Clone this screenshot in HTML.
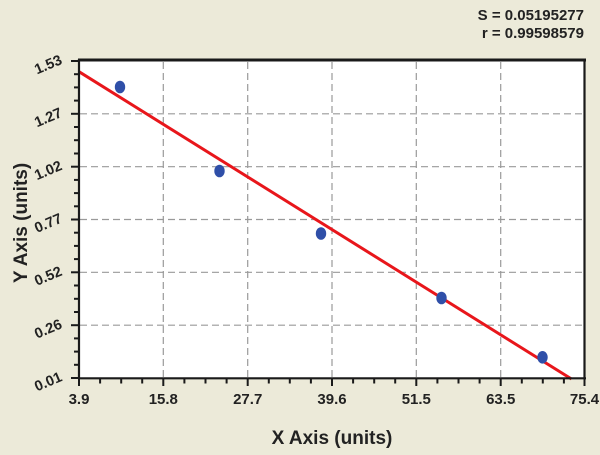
<!DOCTYPE html>
<html><head><meta charset="utf-8"><style>
html,body{margin:0;padding:0;background:#ECEAD9;}
svg{display:block;}
text{font-family:"Liberation Sans",Arial,sans-serif;font-weight:bold;fill:#222;}
</style></head><body>
<svg width="600" height="455" viewBox="0 0 600 455" xmlns="http://www.w3.org/2000/svg">
<rect x="0" y="0" width="600" height="455" fill="#ECEAD9"/>
<rect x="79" y="60" width="506" height="318" fill="#ffffff"/>
<g stroke="#9a9a9a" stroke-width="1.2" stroke-dasharray="7,4" fill="none">
<line x1="163.3" y1="62" x2="163.3" y2="378"/>
<line x1="247.7" y1="62" x2="247.7" y2="378"/>
<line x1="332" y1="62" x2="332" y2="378"/>
<line x1="416.3" y1="62" x2="416.3" y2="378"/>
<line x1="500.7" y1="62" x2="500.7" y2="378"/>
<line x1="80" y1="113.8" x2="582" y2="113.8"/>
<line x1="80" y1="166.7" x2="582" y2="166.7"/>
<line x1="80" y1="219.5" x2="582" y2="219.5"/>
<line x1="80" y1="272.3" x2="582" y2="272.3"/>
<line x1="80" y1="325.2" x2="582" y2="325.2"/>
</g>
<line x1="79" y1="71.7" x2="571.5" y2="379" stroke="#E8161B" stroke-width="3"/>
<g fill="#2F4FA8">
<ellipse cx="120" cy="87" rx="5.2" ry="6.3"/>
<ellipse cx="219.5" cy="171" rx="5.2" ry="6.3"/>
<ellipse cx="321" cy="233.5" rx="5.2" ry="6.3"/>
<ellipse cx="441.5" cy="298" rx="5.2" ry="6.3"/>
<ellipse cx="542.5" cy="357.3" rx="5.2" ry="6.3"/>
</g>
<!-- frame -->
<g stroke="#1a1a1a" fill="none">
<line x1="78" y1="60" x2="586" y2="60" stroke-width="3"/>
<line x1="584.5" y1="59" x2="584.5" y2="379" stroke-width="2.2"/>
<line x1="79" y1="59" x2="79" y2="379" stroke-width="2.2"/>
<line x1="78" y1="378.3" x2="586" y2="378.3" stroke-width="2.2"/>
</g>
<!-- y ticks -->
<g stroke="#1a1a1a" stroke-width="2">
<line x1="71" y1="61" x2="79" y2="61"/><line x1="74" y1="74.2" x2="79" y2="74.2"/><line x1="74" y1="87.4" x2="79" y2="87.4"/><line x1="74" y1="100.6" x2="79" y2="100.6"/>
<line x1="71" y1="113.8" x2="79" y2="113.8"/><line x1="74" y1="127" x2="79" y2="127"/><line x1="74" y1="140.2" x2="79" y2="140.2"/><line x1="74" y1="153.5" x2="79" y2="153.5"/>
<line x1="71" y1="166.7" x2="79" y2="166.7"/><line x1="74" y1="179.9" x2="79" y2="179.9"/><line x1="74" y1="193.1" x2="79" y2="193.1"/><line x1="74" y1="206.3" x2="79" y2="206.3"/>
<line x1="71" y1="219.5" x2="79" y2="219.5"/><line x1="74" y1="232.7" x2="79" y2="232.7"/><line x1="74" y1="245.9" x2="79" y2="245.9"/><line x1="74" y1="259.1" x2="79" y2="259.1"/>
<line x1="71" y1="272.3" x2="79" y2="272.3"/><line x1="74" y1="285.5" x2="79" y2="285.5"/><line x1="74" y1="298.8" x2="79" y2="298.8"/><line x1="74" y1="312" x2="79" y2="312"/>
<line x1="71" y1="325.2" x2="79" y2="325.2"/><line x1="74" y1="338.4" x2="79" y2="338.4"/><line x1="74" y1="351.6" x2="79" y2="351.6"/><line x1="74" y1="364.8" x2="79" y2="364.8"/>
<line x1="71" y1="378" x2="79" y2="378"/>
</g>
<!-- x ticks -->
<g stroke="#1a1a1a" stroke-width="2">
<line x1="79" y1="378" x2="79" y2="386"/><line x1="100.1" y1="378" x2="100.1" y2="383.5"/><line x1="121.2" y1="378" x2="121.2" y2="383.5"/><line x1="142.2" y1="378" x2="142.2" y2="383.5"/>
<line x1="163.3" y1="378" x2="163.3" y2="386"/><line x1="184.4" y1="378" x2="184.4" y2="383.5"/><line x1="205.5" y1="378" x2="205.5" y2="383.5"/><line x1="226.6" y1="378" x2="226.6" y2="383.5"/>
<line x1="247.7" y1="378" x2="247.7" y2="386"/><line x1="268.8" y1="378" x2="268.8" y2="383.5"/><line x1="289.8" y1="378" x2="289.8" y2="383.5"/><line x1="310.9" y1="378" x2="310.9" y2="383.5"/>
<line x1="332" y1="378" x2="332" y2="386"/><line x1="353.1" y1="378" x2="353.1" y2="383.5"/><line x1="374.2" y1="378" x2="374.2" y2="383.5"/><line x1="395.2" y1="378" x2="395.2" y2="383.5"/>
<line x1="416.3" y1="378" x2="416.3" y2="386"/><line x1="437.4" y1="378" x2="437.4" y2="383.5"/><line x1="458.5" y1="378" x2="458.5" y2="383.5"/><line x1="479.6" y1="378" x2="479.6" y2="383.5"/>
<line x1="500.7" y1="378" x2="500.7" y2="386"/><line x1="521.8" y1="378" x2="521.8" y2="383.5"/><line x1="542.8" y1="378" x2="542.8" y2="383.5"/><line x1="563.9" y1="378" x2="563.9" y2="383.5"/>
<line x1="584.5" y1="378" x2="584.5" y2="386"/>
</g>
<!-- x labels -->
<g font-size="15" text-anchor="middle">
<text x="79" y="404">3.9</text>
<text x="163.3" y="404">15.8</text>
<text x="247.7" y="404">27.7</text>
<text x="332" y="404">39.6</text>
<text x="416.3" y="404">51.5</text>
<text x="500.7" y="404">63.5</text>
<text x="584.5" y="404">75.4</text>
</g>
<!-- y labels -->
<g font-size="14.5" text-anchor="end">
<text transform="translate(63,63.5) rotate(-23)">1.53</text>
<text transform="translate(63,116.3) rotate(-23)">1.27</text>
<text transform="translate(63,169.2) rotate(-23)">1.02</text>
<text transform="translate(63,222) rotate(-23)">0.77</text>
<text transform="translate(63,274.8) rotate(-23)">0.52</text>
<text transform="translate(63,327.7) rotate(-23)">0.26</text>
<text transform="translate(63,380.5) rotate(-23)">0.01</text>
</g>
<text x="332" y="444" font-size="19" text-anchor="middle">X Axis (units)</text>
<text transform="translate(27,223) rotate(-90)" font-size="19" text-anchor="middle">Y Axis (units)</text>
<text x="584" y="20" font-size="15" text-anchor="end">S = 0.05195277</text>
<text x="584" y="38" font-size="15" text-anchor="end">r = 0.99598579</text>
</svg>
</body></html>
